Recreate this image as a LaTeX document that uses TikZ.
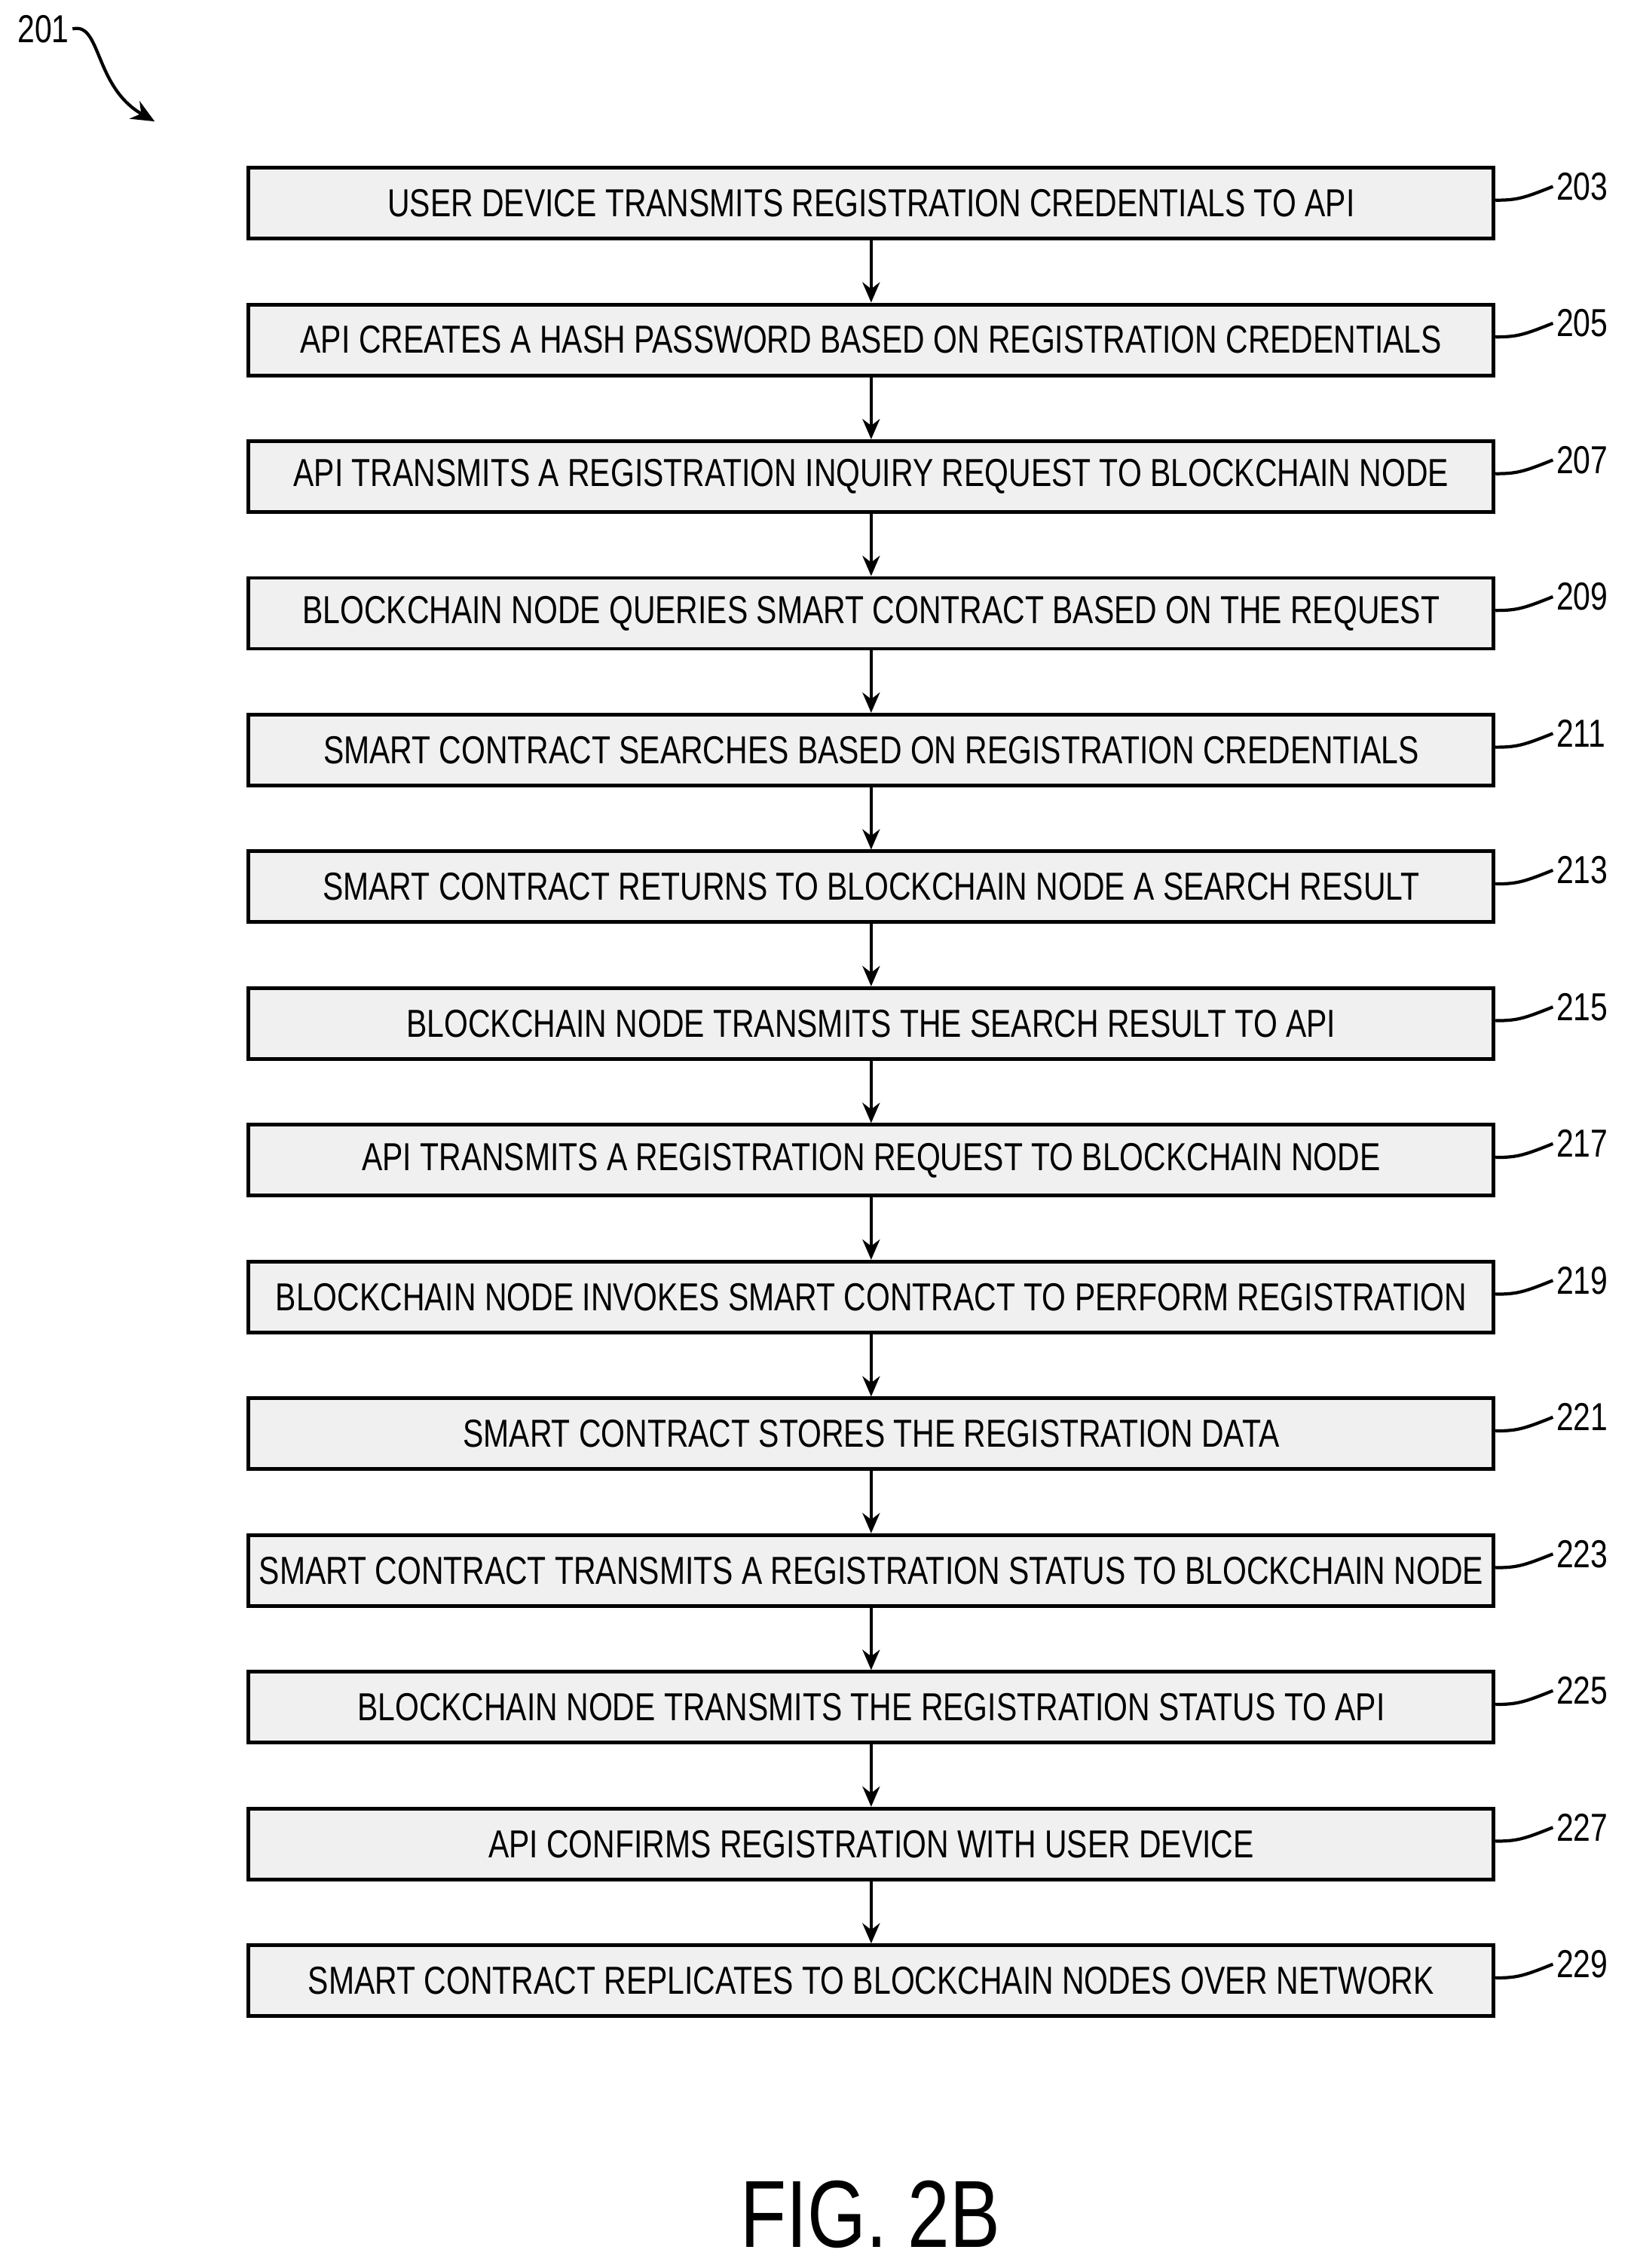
\documentclass[tikz,border=0pt]{standalone}
\usepackage{fontspec}
\setmainfont{Liberation Sans}[FakeStretch=0.79]
\usetikzlibrary{arrows.meta}
\begin{document}
\begin{tikzpicture}[x=0.5pt,y=-0.5pt,
  box/.style={draw,line width=1.3pt,fill=gray!12,minimum width=430.5pt,minimum height=24.5pt,inner sep=0pt,font=\fontsize{13.5}{14}\selectfont},
  arr/.style={-{Stealth[length=7pt,width=6pt]},line width=1.1pt},
  lbl/.style={font=\fontsize{13.5}{14}\selectfont,anchor=west,inner sep=1pt},
  sq/.style={line width=1.1pt}]
\useasboundingbox (0,0) rectangle (1130,1569);
\foreach \i/\n/\t in {0/203/USER DEVICE TRANSMITS REGISTRATION CREDENTIALS TO API,
 1/205/API CREATES A HASH PASSWORD BASED ON REGISTRATION CREDENTIALS,
 2/207/API TRANSMITS A REGISTRATION INQUIRY REQUEST TO BLOCKCHAIN NODE,
 3/209/BLOCKCHAIN NODE QUERIES SMART CONTRACT BASED ON THE REQUEST,
 4/211/SMART CONTRACT SEARCHES BASED ON REGISTRATION CREDENTIALS,
 5/213/SMART CONTRACT RETURNS TO BLOCKCHAIN NODE A SEARCH RESULT,
 6/215/BLOCKCHAIN NODE TRANSMITS THE SEARCH RESULT TO API,
 7/217/API TRANSMITS A REGISTRATION REQUEST TO BLOCKCHAIN NODE,
 8/219/BLOCKCHAIN NODE INVOKES SMART CONTRACT TO PERFORM REGISTRATION,
 9/221/SMART CONTRACT STORES THE REGISTRATION DATA,
 10/223/SMART CONTRACT TRANSMITS A REGISTRATION STATUS TO BLOCKCHAIN NODE,
 11/225/BLOCKCHAIN NODE TRANSMITS THE REGISTRATION STATUS TO API,
 12/227/API CONFIRMS REGISTRATION WITH USER DEVICE,
 13/229/SMART CONTRACT REPLICATES TO BLOCKCHAIN NODES OVER NETWORK}{
  \node[box] (b\i) at (602.5,{140.5+94.6*\i}) {\t};
  \node[lbl] (l\i) at (1074,{129+94.6*\i}) {\n};
  \draw[sq] (b\i.east) ++(0,-2) .. controls +(15,0) and +(-20,8) .. (l\i.west);
}
\foreach \i [evaluate=\i as \j using int(\i+1)] in {0,...,12}{
  \draw[arr] (b\i.south) -- (b\j.north);
}
\node[font=\fontsize{13.5}{14}\selectfont,inner sep=1pt] (t201) at (30,20) {201};
\coordinate (a201) at (107,84);
\draw[sq,-{Stealth[length=8pt,width=7pt]}] (t201.east) .. controls (70,15) and (65,60) .. (a201);
\node[font=\fontsize{33}{35}\selectfont] (fig) at (602,1532) {FIG. 2B};
\end{tikzpicture}
\end{document}
